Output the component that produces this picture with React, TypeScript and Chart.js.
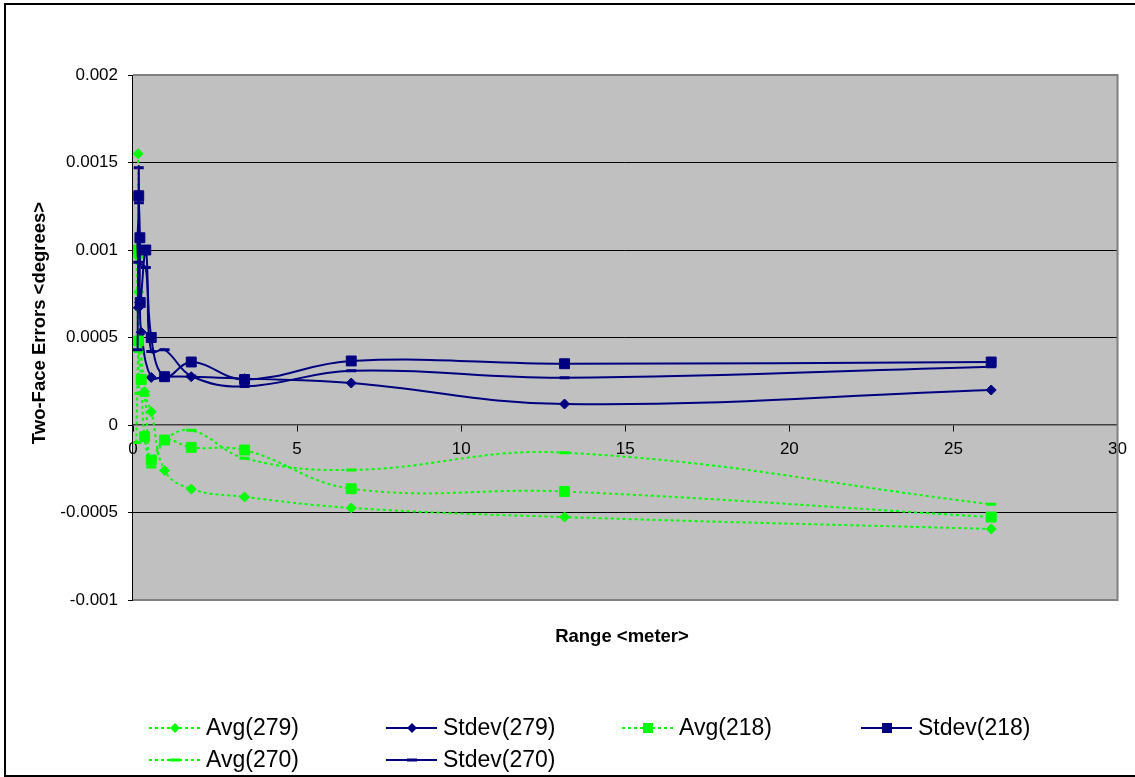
import React, { useEffect, useRef } from "react";
import { Chart, registerables } from "chart.js";

Chart.register(...registerables);

// ---- Data (Range in metres, errors in degrees) ----
const avg279X = [0.156, 0.163, 0.175, 0.353, 0.556, 0.963, 1.775, 3.4, 6.65, 13.15, 26.15];
const avg279Y = [0.00155, 0.00096, 0.00076, 0.00019, 0.000076, -0.00026, -0.000366, -0.000411, -0.000474, -0.000526, -0.000594];

const stdev279X = [0.163, 0.2, 0.251, 0.556, 0.963, 1.775, 3.4, 6.65, 13.15, 26.15];
const stdev279Y = [0.00067, 0.0007, 0.00053, 0.000272, 0.000276, 0.000276, 0.000265, 0.00024, 0.00012, 0.0002];

const avg218X = [0.11, 0.163, 0.251, 0.353, 0.556, 0.963, 1.775, 3.4, 6.65, 13.15, 26.15];
const avg218Y = [0.001, 0.00048, 0.00026, -0.000067, -0.0002, -0.000086, -0.000128, -0.000143, -0.000364, -0.00038, -0.000526];

const stdev218X = [0.175, 0.21, 0.22, 0.39, 0.556, 0.963, 1.775, 3.4, 6.65, 13.15, 26.15];
const stdev218Y = [0.00131, 0.00107, 0.0007, 0.001, 0.0005, 0.000276, 0.00036, 0.00026, 0.000366, 0.00035, 0.00036];

const avg270X = [0.1, 0.163, 0.2, 0.353, 0.556, 0.963, 1.775, 3.4, 6.65, 13.15, 26.15];
const avg270Y = [-0.0001, 0.00042, 0.00018, 0.00017, -0.00024, -0.00009, -0.00003, -0.00019, -0.000257, -0.000158, -0.000453];

const stdev270X = [0.14, 0.175, 0.18, 0.16, 0.39, 0.556, 0.963, 1.775, 3.4, 6.65, 13.15, 26.15];
const stdev270Y = [0.00043, 0.00147, 0.00127, 0.00093, 0.0009, 0.00042, 0.00043, 0.00028, 0.00022, 0.00031, 0.00027, 0.000333];

const seriesNames = ["Avg(279)", "Stdev(279)", "Avg(218)", "Stdev(218)", "Avg(270)", "Stdev(270)"];

const X_MIN = 0, X_MAX = 30, X_STEP = 5;
const Y_MIN = -0.001, Y_MAX = 0.002, Y_STEP = 0.0005;

const xTitle = "Range <meter>";
const yTitle = "Two-Face Errors <degrees>";

const GREEN = "#00FF00";
const NAVY = "#000080";
const FONT = "'Liberation Sans', Arial, sans-serif";

const zip = (xs: number[], ys: number[]) => xs.map((x, i) => ({ x, y: ys[i] }));

type Style = { color: string; dashed: boolean; point: "rectRot" | "rect" | "line" };
const styles: Style[] = [
  { color: GREEN, dashed: true, point: "rectRot" },
  { color: NAVY, dashed: false, point: "rectRot" },
  { color: GREEN, dashed: true, point: "rect" },
  { color: NAVY, dashed: false, point: "rect" },
  { color: GREEN, dashed: true, point: "line" },
  { color: NAVY, dashed: false, point: "line" },
];

const pointRadius = (p: Style["point"]) => (p === "rectRot" ? 5 : p === "rect" ? 7 : 5);

function drawMarker(ctx: CanvasRenderingContext2D, s: Style, x: number, y: number) {
  ctx.save();
  ctx.setLineDash([]);
  ctx.fillStyle = s.color;
  ctx.strokeStyle = s.color;
  if (s.point === "rectRot") {
    ctx.beginPath();
    ctx.moveTo(x - 5, y);
    ctx.lineTo(x, y - 5);
    ctx.lineTo(x + 5, y);
    ctx.lineTo(x, y + 5);
    ctx.closePath();
    ctx.fill();
  } else if (s.point === "rect") {
    ctx.fillRect(x - 5, y - 5, 10, 10);
  } else {
    ctx.fillRect(x - 5, y - 1.5, 10, 3);
  }
  ctx.restore();
}

const decorPlugin = {
  id: "excelDecor",
  beforeDraw(chart: any) {
    const { ctx, chartArea: a } = chart;
    ctx.save();
    ctx.fillStyle = "#FFFFFF";
    ctx.fillRect(0, 0, chart.width, chart.height);
    ctx.fillStyle = "#C0C0C0";
    ctx.fillRect(a.left, a.top, a.right - a.left, a.bottom - a.top);
    ctx.restore();
  },
  beforeDatasetsDraw(chart: any) {
    const { ctx, chartArea: a } = chart;
    ctx.save();
    ctx.strokeStyle = "#808080";
    ctx.lineWidth = 2;
    ctx.beginPath();
    ctx.moveTo(a.left, a.top);
    ctx.lineTo(a.right, a.top);
    ctx.lineTo(a.right, a.bottom);
    ctx.lineTo(a.left, a.bottom);
    ctx.stroke();
    ctx.strokeStyle = "#000000";
    ctx.lineWidth = 1;
    ctx.beginPath();
    ctx.moveTo(a.left - 0.5, a.top);
    ctx.lineTo(a.left - 0.5, a.bottom);
    ctx.stroke();
    ctx.restore();
  },
  afterDraw(chart: any) {
    const { ctx } = chart;
    ctx.save();
    // outer chart border
    ctx.strokeStyle = "#000000";
    ctx.lineWidth = 2;
    ctx.strokeRect(5, 4, chart.width + 10, chart.height - 5);

    ctx.fillStyle = "#000000";
    ctx.font = `bold 18.5px ${FONT}`;
    ctx.textAlign = "center";
    ctx.textBaseline = "middle";
    ctx.fillText(xTitle, 622, 637);
    ctx.save();
    ctx.translate(40, 323);
    ctx.rotate(-Math.PI / 2);
    ctx.fillText(yTitle, 0, 0);
    ctx.restore();

    // legend
    const colX = [149, 386, 622, 861];
    const rowY = [728, 760];
    ctx.font = `23px ${FONT}`;
    ctx.textAlign = "left";
    seriesNames.forEach((name, i) => {
      const s = styles[i];
      const x = colX[i % 4];
      const y = rowY[Math.floor(i / 4)];
      ctx.save();
      ctx.strokeStyle = s.color;
      ctx.lineWidth = 2;
      ctx.setLineDash(s.dashed ? [3, 3] : []);
      ctx.beginPath();
      ctx.moveTo(x, y);
      ctx.lineTo(x + 51, y);
      ctx.stroke();
      ctx.restore();
      drawMarker(ctx, s, x + 26, y);
      ctx.fillStyle = "#000000";
      ctx.fillText(name, x + 57, y + 1);
    });
    ctx.restore();
  },
};

export default function App() {
  const ref = useRef<HTMLCanvasElement | null>(null);
  useEffect(() => {
    if (!ref.current) return;
    const all = [
      zip(avg279X, avg279Y),
      zip(stdev279X, stdev279Y),
      zip(avg218X, avg218Y),
      zip(stdev218X, stdev218Y),
      zip(avg270X, avg270Y),
      zip(stdev270X, stdev270Y),
    ];
    const datasets = all.map((data, i) => {
      const s = styles[i];
      return {
        label: seriesNames[i],
        data,
        showLine: true,
        borderColor: s.color,
        backgroundColor: s.color,
        borderWidth: 2,
        borderDash: s.dashed ? [3, 3] : [],
        tension: 0.4,
        pointStyle: s.point,
        pointRadius: pointRadius(s.point),
        pointBorderWidth: s.point === "line" ? 3 : 1,
        pointBackgroundColor: s.color,
        pointBorderColor: s.color,
        order: 10 - i,
      };
    });
    const chart = new Chart(ref.current, {
      type: "scatter",
      data: { datasets },
      plugins: [decorPlugin],
      options: {
        animation: false,
        responsive: false,
        maintainAspectRatio: false,
        layout: { padding: { left: 0, top: 75, right: 16, bottom: 177 } },
        plugins: { legend: { display: false }, tooltip: { enabled: false } },
        scales: {
          x: {
            type: "linear",
            position: { y: 0 } as any,
            min: X_MIN,
            max: X_MAX,
            ticks: {
              stepSize: X_STEP,
              color: "#000",
              font: { family: FONT, size: 17 },
              padding: 8,
              maxRotation: 0,
            },
            grid: { drawOnChartArea: false, drawTicks: true, tickLength: 6, color: "#000", tickWidth: 1 },
            border: { display: true, color: "#404040", width: 1.5 },
          },
          y: {
            type: "linear",
            min: Y_MIN,
            max: Y_MAX,
            afterFit: (scale: any) => {
              scale.width = 133;
            },
            ticks: {
              stepSize: Y_STEP,
              color: "#000",
              font: { family: FONT, size: 17 },
              padding: 10,
              callback: (v: any) => String(Math.round(Number(v) * 1e5) / 1e5),
            },
            grid: {
              drawTicks: true,
              tickLength: 5,
              tickColor: "#000",
              color: (c: any) => {
                const v = c.tick ? c.tick.value : 0;
                if (Math.abs(v - Y_MIN) < 1e-9 || Math.abs(v - Y_MAX) < 1e-9 || Math.abs(v) < 1e-9) return "rgba(0,0,0,0)";
                return "#000";
              },
            },
            border: { display: false },
          },
        },
      },
    });
    return () => chart.destroy();
  }, []);
  return (
    <div style={{ position: "absolute", left: 0, top: 0, width: 1135, height: 777 }}>
      <canvas ref={ref} width={1135} height={777} />
    </div>
  );
}
